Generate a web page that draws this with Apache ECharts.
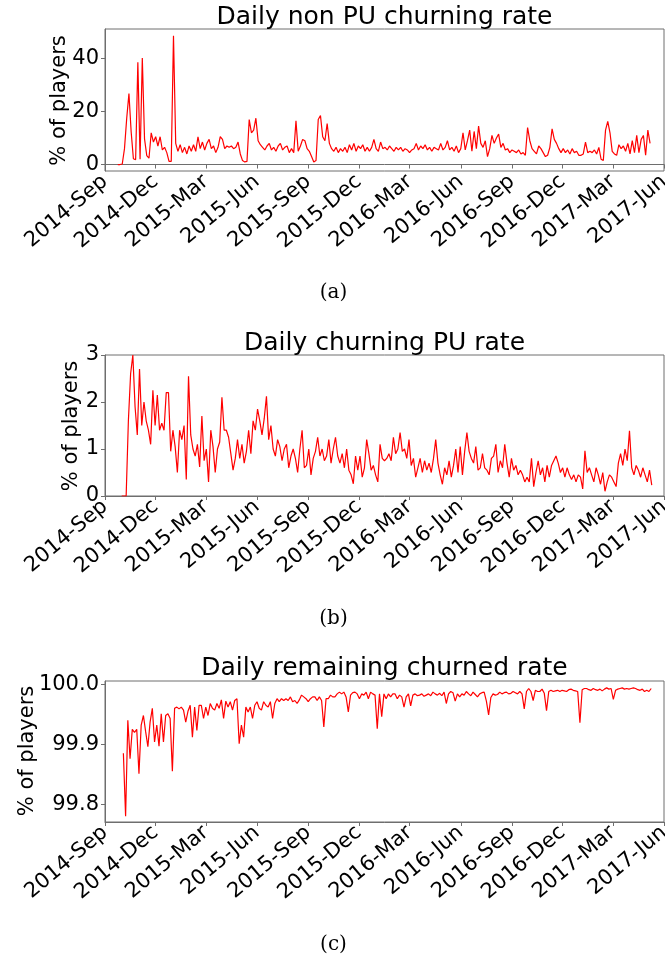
<!DOCTYPE html>
<html><head><meta charset="utf-8">
<script src="https://cdn.jsdelivr.net/npm/echarts@6/dist/echarts.min.js"></script>
<style>html,body{margin:0;padding:0;background:#fff}#c{width:665px;height:959px}</style>
</head><body><div id="c"></div>
<script>
// ---- tick labels ----
const tickDates = ['2014-09-01','2014-12-01','2015-03-01','2015-06-01','2015-09-01','2015-12-01',
  '2016-03-01','2016-06-01','2016-09-01','2016-12-01','2017-03-01','2017-06-01'];
const tickLabels = ['2014-Sep','2014-Dec','2015-Mar','2015-Jun','2015-Sep','2015-Dec',
  '2016-Mar','2016-Jun','2016-Sep','2016-Dec','2017-Mar','2017-Jun'];
const yTicksA = [0, 20, 40];
const yTicksB = [0, 1, 2, 3];
const yTicksC = [99.8, 99.9, 100.0];
const titles = ['Daily non PU churning rate', 'Daily churning PU rate', 'Daily remaining churned rate'];
const captions = ['(a)', '(b)', '(c)'];
const yName = '% of players';

// ---- series (one value every 4 days from the start date) ----
const startA = '2014-09-24', startB = '2014-10-01', startC = '2014-10-04';
const stepDays = 4;
const nonPU = [
0,0,0.2,6,17.5,26.8,12.3,2.2,1.8,38.6,
2,40.2,9.7,3.4,2.4,12,8.5,10.5,7,10.5,
5.5,6.5,4.5,1.2,1.2,48.6,8,5,7.5,4.5,
6.5,4,7,5,7.5,5,10.5,6,8.5,5.5,
8,9.5,6,7,4.5,6.5,10.5,9.5,6,7,
6.5,7,6,6.5,8.5,4,1.5,1,1.2,17,
12,13,17.5,9,7.5,6.5,5.5,7,8,5.5,
6.5,5,7,8,5.5,6.5,7,4.5,6,4.5,
16.5,5,7,9.5,9,6,5,3,1,1.5,
17,18.5,10.5,9,15.5,8,6,5,6.5,4.5,
6,5,6.5,4.5,7.5,5.5,8,5,7,6,
7.5,5,6.5,5,6.5,9.5,6,5,8.5,6,
6.5,5.5,7,6,5,6.5,5.5,6.5,5,6,
5.5,4.5,5.5,6,8,5.5,7,6,7.5,5.5,
6.5,5,6.5,6,5.5,8,5.5,6.5,9,5.5,
6.5,5,7,4.5,6,12,5.5,9,13,5,
12.5,6,14.5,8,6.5,9,3,6,11,8,
10,11.5,6.5,8,5.5,6,4.5,5.5,5,4.5,
5.5,4,4.5,3.5,14,9,6,5,4,7,
6,4.5,3,3.5,6.5,13.5,9.5,8,6,4.5,
6,4.5,5.5,4,6,4.5,5,3.5,3.5,4,
8.5,4.5,5,4.5,5.5,4,6.5,2,1.5,13,
16.3,12,5,4,3.5,7.5,6,7,5,8,
4,9,4.5,11,4.5,9.5,11,3.5,13,8];
const churnPU = [
0,0,0,1.6,2.6,3.0,1.9,1.3,2.7,1.5,
2.0,1.6,1.4,1.1,2.25,1.5,2.15,1.4,1.55,1.4,
2.2,2.2,0.95,1.4,1.05,0.5,1.4,1.2,1.5,0.35,
2.55,1.3,1.0,0.85,1.1,0.62,1.7,0.75,1.0,0.3,
1.4,1.05,0.5,1.0,1.15,2.1,1.4,1.4,1.25,0.9,
0.55,0.8,1.2,0.8,1.1,0.7,0.95,1.4,0.9,1.6,
1.4,1.85,1.6,1.3,1.65,2.12,1.2,1.5,1.0,0.85,
1.2,1.05,0.75,1.0,1.1,0.6,0.85,1.0,0.8,0.5,
1.0,1.4,0.6,0.65,1.0,0.45,0.8,0.95,1.25,0.85,
1.0,0.75,0.85,1.2,0.7,1.0,1.25,0.85,0.7,0.9,
0.6,1.0,0.55,0.45,0.26,0.85,0.55,0.85,0.4,0.6,
1.2,0.9,0.55,0.65,0.45,0.3,1.1,0.8,0.75,
0.8,0.9,0.75,1.25,0.9,1.0,1.35,0.95,1.0,0.8,
1.2,0.65,0.8,0.4,0.6,0.8,0.5,0.75,0.55,0.7,
0.5,0.8,1.2,0.7,0.45,0.25,0.6,0.45,0.75,0.4,
0.65,1.0,0.5,1.05,0.45,0.95,1.35,0.95,0.8,0.7,
1.05,0.55,0.6,0.9,0.6,0.55,0.45,0.8,0.85,1.1,
0.5,0.75,0.6,1.1,0.7,0.4,0.8,0.55,0.65,0.45,
0.55,0.45,0.3,0.4,0.3,0.8,0.2,0.5,0.75,0.45,
0.6,0.3,0.65,0.4,0.65,0.75,0.85,0.7,0.5,0.6,
0.4,0.6,0.45,0.35,0.45,0.3,0.45,0.4,0.15,0.96,
0.5,0.6,0.45,0.3,0.6,0.45,0.25,0.5,0.1,0.3,
0.45,0.4,0.3,0.2,0.7,0.9,0.65,1.0,0.75,1.39,
0.6,0.45,0.65,0.55,0.4,0.6,0.45,0.3,0.55,0.23];
const remaining = [
99.885,99.78,99.94,99.876,99.925,99.92,99.925,99.851,99.932,99.948,
99.921,99.896,99.937,99.96,99.904,99.932,99.897,99.951,99.904,99.948,
99.951,99.943,99.855,99.96,99.962,99.959,99.962,99.957,99.937,99.955,
99.965,99.912,99.962,99.923,99.965,99.965,99.943,99.962,99.948,99.968,
99.96,99.957,99.968,99.96,99.974,99.943,99.972,99.962,99.971,99.957,
99.973,99.976,99.901,99.932,99.912,99.962,99.954,99.962,99.943,99.965,
99.971,99.96,99.957,99.971,99.965,99.962,99.971,99.943,99.968,99.976,
99.971,99.976,99.973,99.976,99.973,99.979,99.971,99.973,99.968,99.974,
99.982,99.979,99.976,99.971,99.976,99.979,99.979,99.973,99.979,99.973,
99.929,99.976,99.976,99.982,99.979,99.979,99.984,99.987,99.984,99.987,
99.979,99.954,99.982,99.986,99.987,99.984,99.976,99.984,99.982,99.987,
99.976,99.987,99.984,99.982,99.926,99.984,99.946,99.984,
99.976,99.984,99.979,99.984,99.984,99.976,99.982,99.979,99.962,99.979,
99.984,99.964,99.982,99.984,99.981,99.982,99.984,99.98,99.982,99.984,
99.981,99.987,99.984,99.982,99.985,99.981,99.987,99.968,99.984,99.988,
99.986,99.972,99.984,99.979,99.984,99.982,99.988,99.984,99.981,99.987,
99.983,99.979,99.984,99.986,99.987,99.972,99.949,99.978,99.984,99.982,
99.983,99.987,99.984,99.986,99.987,99.984,99.985,99.988,99.986,99.984,
99.988,99.984,99.959,99.988,99.993,99.988,99.973,99.99,99.988,99.988,
99.992,99.985,99.956,99.988,99.99,99.988,99.989,99.99,99.988,99.99,
99.989,99.988,99.991,99.992,99.99,99.989,99.988,99.936,99.991,99.993,
99.993,99.991,99.99,99.993,99.991,99.99,99.992,99.989,99.992,99.994,
99.992,99.993,99.975,99.99,99.992,99.993,99.994,99.992,99.993,99.992,
99.993,99.994,99.993,99.991,99.99,99.992,99.988,99.99,99.988,99.993];

// ---- build ----
const ORIGIN = Date.UTC(2014, 8, 1);
function dayOf(s) { const p = s.split('-').map(Number); return (Date.UTC(p[0], p[1]-1, p[2]) - ORIGIN) / 86400000; }
const tickDays = tickDates.map(dayOf);
const xMax = tickDays[tickDays.length-1];
function pairs(start, vals) { const d0 = dayOf(start); return vals.map((v, i) => [d0 + i*stepDays, v]); }

const FONT = 'DejaVu Sans';
const frame = '#6e6e6e';
const grids = [
  {left:105, top:29, width:559, height:142},
  {left:105, top:355, width:559, height:141},
  {left:105, top:681, width:559, height:141}
];
const yCfg = [
  {min:-2.44, max:51.2, ticks:yTicksA, fmt:v=>String(v)},
  {min:0, max:3, ticks:yTicksB, fmt:v=>String(v)},
  {min:99.7705, max:100.0055, ticks:yTicksC, fmt:v=>v.toFixed(1)}
];
const seriesData = [pairs(startA, nonPU), pairs(startB, churnPU), pairs(startC, remaining)];

const option = {
  animation: false,
  grid: grids.map(g => Object.assign({show:true, borderColor:frame, borderWidth:1, backgroundColor:'transparent', containLabel:false, outerBoundsMode:'none'}, g)),
  xAxis: grids.map((g, i) => ({
    type:'value', gridIndex:i, min:0, max:xMax,
    axisLine:{show:true, lineStyle:{color:frame, width:1}},
    axisTick:{show:true, customValues:tickDays, length:4, inside:false, lineStyle:{color:frame}},
    axisLabel:{show:true, customValues:tickDays, rotate:40, margin:8, fontSize:21, fontFamily:FONT, color:'#000',
      formatter: v => { const k = tickDays.indexOf(Math.round(v)); return k >= 0 ? tickLabels[k] : ''; }},
    splitLine:{show:false}
  })),
  yAxis: grids.map((g, i) => ({
    type:'value', gridIndex:i, min:yCfg[i].min, max:yCfg[i].max,
    axisLine:{show:true, lineStyle:{color:frame, width:1}},
    axisTick:{show:true, customValues:yCfg[i].ticks, length:4, lineStyle:{color:frame}},
    axisLabel:{show:true, customValues:yCfg[i].ticks, margin:6, fontSize:21, fontFamily:FONT, color:'#000', formatter:yCfg[i].fmt},
    splitLine:{show:false}
  })),
  series: seriesData.map((d, i) => ({
    type:'line', xAxisIndex:i, yAxisIndex:i, data:d, showSymbol:false, symbol:'none',
    lineStyle:{color:'#ff0000', width:1.2}, clip:true, silent:true
  })),
  graphic: [
    ...titles.map((t, i) => ({type:'text', x:384.5, y:[17.3, 343, 668][i],
      style:{text:t, fontSize:25, fontFamily:FONT, fill:'#000', align:'center', verticalAlign:'middle'}})),
    ...[[59.4,100.5],[72,426],[27.6,751]].map(p => ({type:'text', x:p[0], y:p[1], rotation:Math.PI/2,
      style:{text:yName, fontSize:21, fontFamily:FONT, fill:'#000', align:'center', verticalAlign:'middle'}})),
    ...captions.map((c, i) => ({type:'text', x:333.5, y:[293, 619, 945][i],
      style:{text:c, fontSize:20, fontFamily:'DejaVu Serif', fill:'#000', align:'center', verticalAlign:'middle'}}))
  ]
};
const chart = echarts.init(document.getElementById('c'), null, {renderer:'canvas'});
chart.setOption(option);
</script></body></html>
